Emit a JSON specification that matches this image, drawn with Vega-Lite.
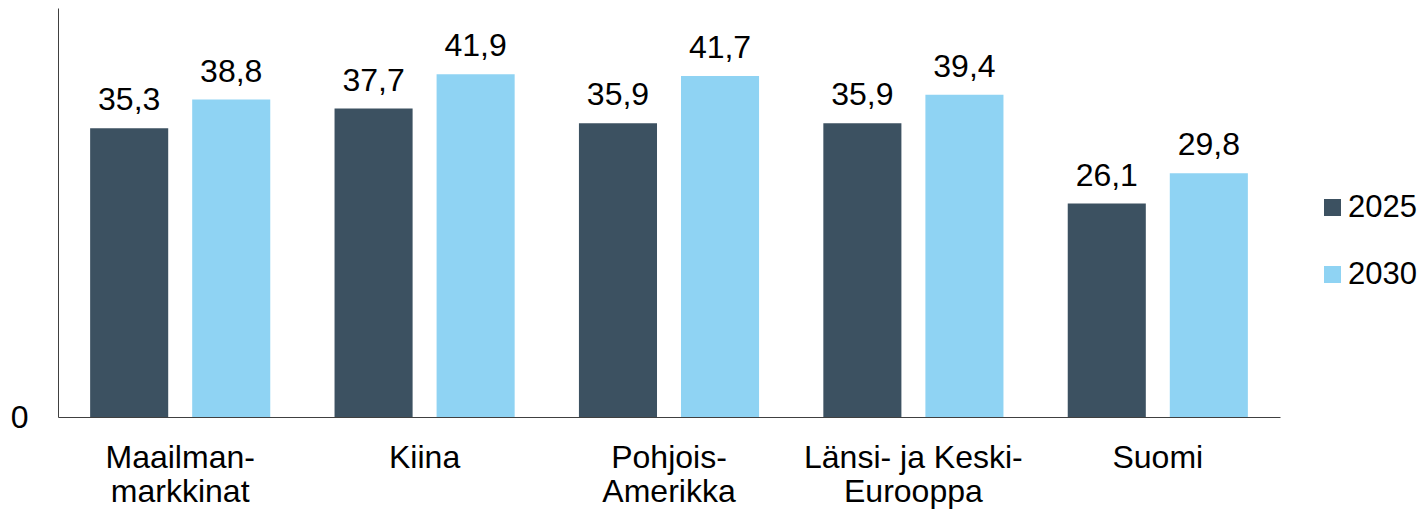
{
  "$schema": "https://vega.github.io/schema/vega-lite/v6.json",
  "width": 1222,
  "height": 409,
  "autosize": {"type": "none"},
  "padding": {"left": 58, "top": 8, "right": 146, "bottom": 92},
  "background": "white",
  "config": {
    "view": {"stroke": null},
    "font": "Liberation Sans",
    "locale": {"number": {"decimal": ",", "thousands": " ", "grouping": [3], "currency": ["", " €"]}}
  },
  "data": {
    "values": [
      {"alue": "Maailman-\nmarkkinat", "vuosi": "2025", "arvo": 35.3},
      {"alue": "Maailman-\nmarkkinat", "vuosi": "2030", "arvo": 38.8},
      {"alue": "Kiina", "vuosi": "2025", "arvo": 37.7},
      {"alue": "Kiina", "vuosi": "2030", "arvo": 41.9},
      {"alue": "Pohjois-\nAmerikka", "vuosi": "2025", "arvo": 35.9},
      {"alue": "Pohjois-\nAmerikka", "vuosi": "2030", "arvo": 41.7},
      {"alue": "Länsi- ja Keski-\nEurooppa", "vuosi": "2025", "arvo": 35.9},
      {"alue": "Länsi- ja Keski-\nEurooppa", "vuosi": "2030", "arvo": 39.4},
      {"alue": "Suomi", "vuosi": "2025", "arvo": 26.1},
      {"alue": "Suomi", "vuosi": "2030", "arvo": 29.8}
    ]
  },
  "encoding": {
    "x": {
      "field": "alue", "type": "nominal", "sort": null,
      "scale": {"paddingInner": 0.263, "paddingOuter": 0.1315},
      "axis": {
        "title": null, "labelAngle": 0, "ticks": false,
        "domainColor": "#404040", "domainWidth": 1,
        "labelFontSize": 32, "labelColor": "black", "labelPadding": 25,
        "labelLineHeight": 34, "labelBaseline": "top", "labelLimit": 500,
        "labelExpr": "split(datum.label, '\\n')"
      }
    },
    "xOffset": {"field": "vuosi", "type": "nominal", "scale": {"paddingInner": 0.235, "paddingOuter": 0}},
    "y": {
      "field": "arvo", "type": "quantitative",
      "scale": {"domain": [0, 50], "nice": false},
      "axis": {
        "title": null, "values": [0], "ticks": false, "grid": false,
        "domainColor": "#404040", "domainWidth": 1,
        "labelFontSize": 32, "labelColor": "black", "labelPadding": 30
      }
    }
  },
  "layer": [
    {
      "mark": {"type": "bar"},
      "encoding": {
        "color": {
          "field": "vuosi", "type": "nominal",
          "scale": {"domain": ["2025", "2030"], "range": ["#3C5161", "#8FD3F3"]},
          "legend": {
            "title": null, "orient": "none", "legendX": 1259, "legendY": 184,
            "symbolType": "square", "symbolSize": 289, "symbolStrokeWidth": 0,
            "labelFontSize": 31, "labelColor": "black", "labelOffset": 0, "labelLimit": 200,
            "rowPadding": 35
          }
        }
      }
    },
    {
      "mark": {"type": "text", "baseline": "alphabetic", "dy": -18, "fontSize": 32, "color": "black"},
      "encoding": {
        "text": {"field": "arvo", "type": "quantitative", "format": ".1f"}
      }
    }
  ]
}
